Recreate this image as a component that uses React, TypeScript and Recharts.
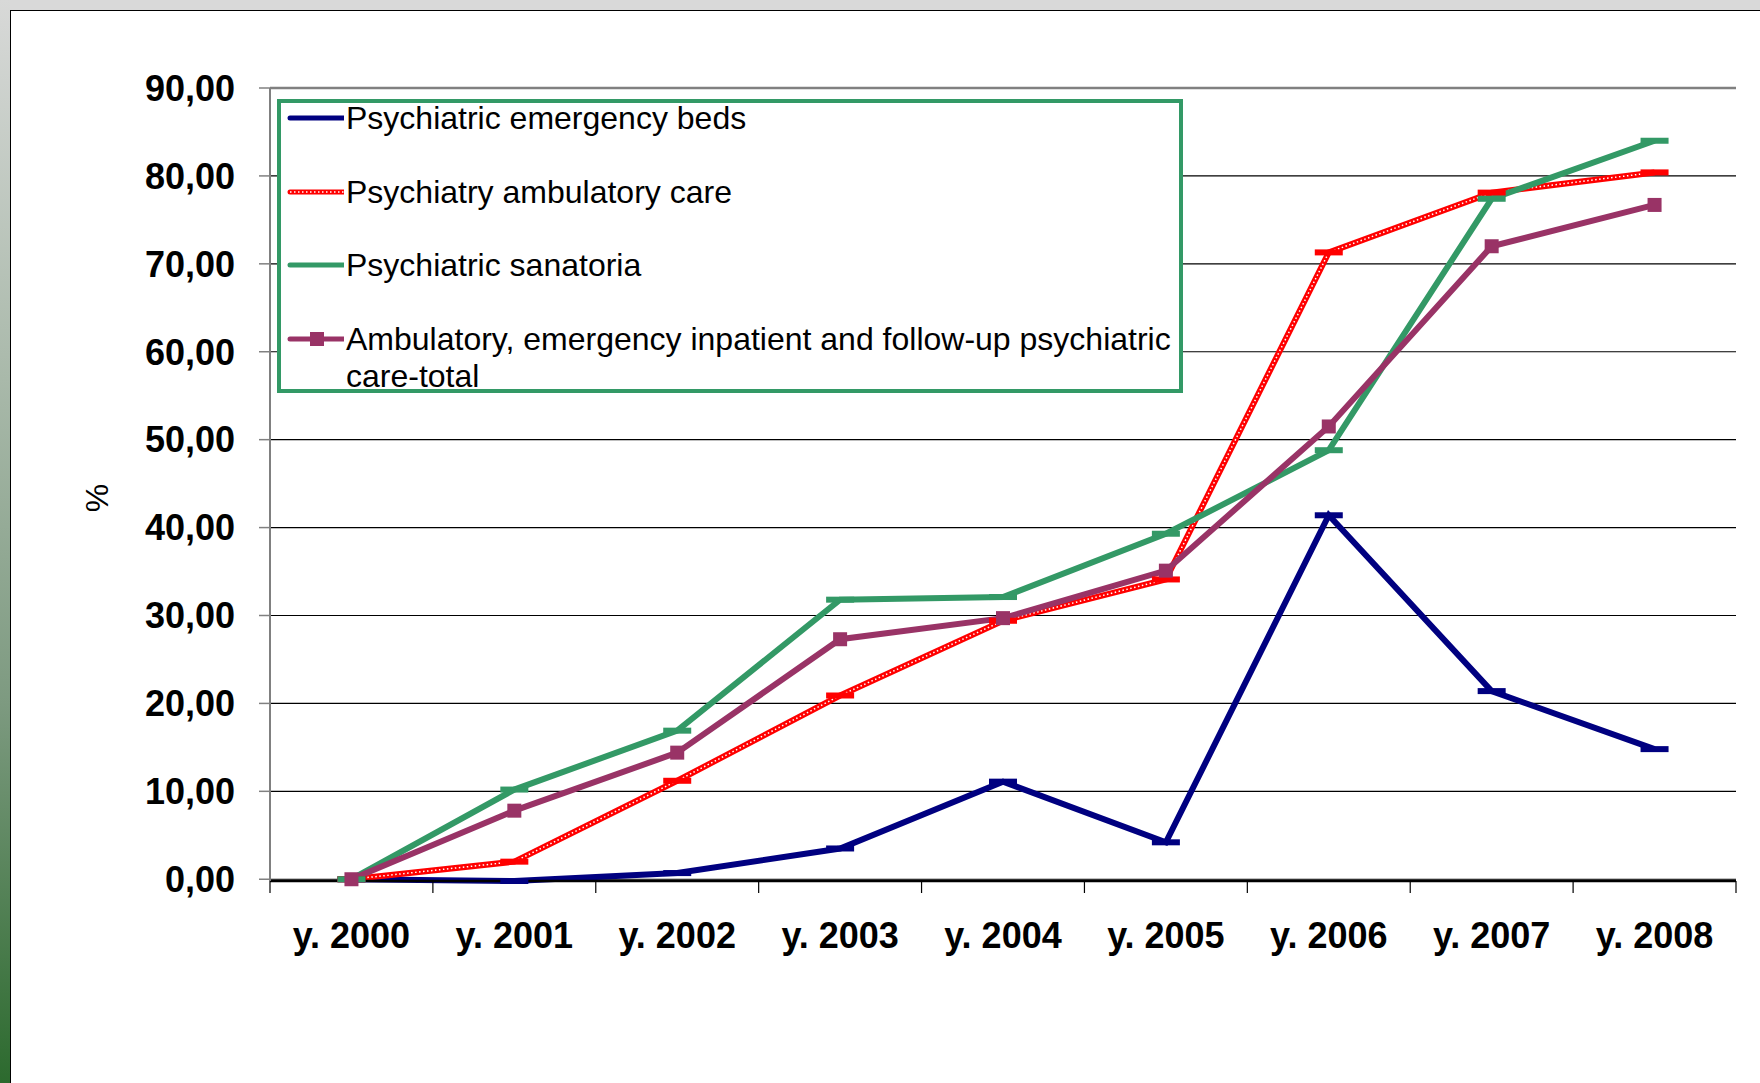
import React from 'react';
import { LineChart, Line, XAxis, YAxis, CartesianGrid, ReferenceLine } from 'recharts';

const years = ['y. 2000', 'y. 2001', 'y. 2002', 'y. 2003', 'y. 2004', 'y. 2005', 'y. 2006', 'y. 2007', 'y. 2008'];
const emergencyBeds = [0, -0.2, 0.7, 3.5, 11.1, 4.2, 41.4, 21.4, 14.8];
const ambulatoryCare = [0, 2.0, 11.2, 20.9, 29.4, 34.1, 71.3, 78.1, 80.4];
const sanatoria = [0, 10.2, 16.9, 31.8, 32.1, 39.3, 48.8, 77.4, 84.0];
const totalCare = [0, 7.8, 14.4, 27.3, 29.7, 35.1, 51.5, 72.0, 76.7];
const yTicks = [0, 10, 20, 30, 40, 50, 60, 70, 80, 90];

const legendLabels = [
  'Psychiatric emergency beds',
  'Psychiatry ambulatory care',
  'Psychiatric sanatoria',
  'Ambulatory, emergency inpatient and follow-up psychiatric\ncare-total',
];
const colors = ['#000080', '#ff0000', '#339966', '#993366'];

const data = years.map((year, i) => ({
  year,
  beds: emergencyBeds[i],
  ambulatory: ambulatoryCare[i],
  sanatoria: sanatoria[i],
  total: totalCare[i],
}));

const FONT = '"Liberation Sans", Arial, sans-serif';
const PLOT_LEFT = 270;
const PLOT_RIGHT = 1736;
const PLOT_TOP = 88;
const PLOT_BOTTOM = 881;
const BAND = (PLOT_RIGHT - PLOT_LEFT) / years.length;

const dashDot = (color: string) => (p: any) => (
  <rect key={`d-${color}-${p.index}`} x={p.cx - 14} y={p.cy - 3} width={28} height={6} fill={color} />
);
const squareDot = (color: string) => (p: any) => (
  <rect key={`s-${color}-${p.index}`} x={p.cx - 7} y={p.cy - 7} width={14} height={14} fill={color} />
);

const XTick = (props: any) => {
  const { x, y, payload, index } = props;
  const last = index === years.length - 1;
  return (
    <g>
      <line x1={x - BAND / 2} x2={x - BAND / 2} y1={y} y2={y + 12} stroke="#000" strokeWidth={1.2} />
      {last && <line x1={x + BAND / 2} x2={x + BAND / 2} y1={y} y2={y + 12} stroke="#000" strokeWidth={1.2} />}
      <text x={x} y={y + 67} textAnchor="middle" fontSize={36} fontWeight="bold" fill="#000" fontFamily={FONT}>
        {payload.value}
      </text>
    </g>
  );
};

const LegendBox = () => (
  <div
    style={{
      position: 'absolute',
      left: 277,
      top: 99,
      width: 906,
      height: 294,
      boxSizing: 'border-box',
      border: '4px solid #339966',
      background: '#fff',
      fontFamily: FONT,
      fontSize: 32,
      color: '#000',
    }}
  >
    {legendLabels.map((label, i) => (
      <div key={label} style={{ position: 'absolute', left: 3, top: -3 + i * 73.5, display: 'flex', alignItems: 'flex-start' }}>
        <svg width={60} height={37} style={{ flex: 'none' }}>
          <line x1={6} x2={60} y1={18} y2={18} stroke={colors[i]} strokeWidth={5} strokeLinecap="round" />
          {i === 1 && <line x1={6} x2={60} y1={18} y2={18} stroke="#fff" strokeWidth={1.5} strokeDasharray="1.5 2.5" />}
          {i === 3 && <rect x={26} y={11} width={14} height={14} fill={colors[i]} />}
        </svg>
        <div style={{ whiteSpace: 'pre-line', lineHeight: '37px', marginLeft: 2 }}>{label}</div>
      </div>
    ))}
  </div>
);

export default function App() {
  return (
    <div style={{ position: 'absolute', left: 0, top: 0, width: 1760, height: 1083, background: '#fff', overflow: 'hidden' }}>
      <div style={{ position: 'absolute', left: 0, top: 0, width: 1760, height: 10, background: '#d9d9d9' }} />
      <div
        style={{
          position: 'absolute',
          left: 0,
          top: 0,
          width: 10,
          height: 1083,
          background: 'linear-gradient(to bottom, #d8d9d8 0%, #a9b9aa 35%, #7d9a80 65%, #2c6a2e 100%)',
        }}
      />
      <div
        style={{
          position: 'absolute',
          left: 10,
          top: 10,
          width: 1760,
          height: 1083,
          borderTop: '1.5px solid #000',
          borderLeft: '1.5px solid #000',
        }}
      />
      <div style={{ position: 'absolute', left: 0, top: 0 }}>
        <LineChart
          width={1760}
          height={1083}
          data={data}
          margin={{ top: PLOT_TOP, right: 1760 - PLOT_RIGHT, left: PLOT_LEFT - 100, bottom: 1083 - PLOT_BOTTOM - 60 }}
          style={{ fontFamily: FONT }}
        >
          <CartesianGrid vertical={false} stroke="#000" strokeWidth={1.2} />
          <XAxis
            dataKey="year"
            height={60}
            interval={0}
            padding={{ left: BAND / 2, right: BAND / 2 }}
            tickLine={false}
            tickSize={0}
            tickMargin={0}
            axisLine={{ stroke: '#000', strokeWidth: 2.5 }}
            tick={<XTick />}
          />
          <YAxis
            width={100}
            domain={[0, 90]}
            ticks={yTicks}
            interval={0}
            tickFormatter={(v: number) => v.toFixed(2).replace('.', ',')}
            tick={{ fill: '#000', fontSize: 36, fontWeight: 'bold', fontFamily: FONT }}
            tickSize={11}
            tickMargin={24}
            tickLine={{ stroke: '#808080', strokeWidth: 1.5 }}
            axisLine={{ stroke: '#808080', strokeWidth: 2 }}
            label={() => (
              <text transform="translate(97, 498) rotate(-90)" textAnchor="middle" dominantBaseline="central" fontSize={32} fontFamily={FONT} fill="#000">
                %
              </text>
            )}
          />
          <YAxis
            yAxisId="frame"
            orientation="right"
            width={0}
            domain={[0, 90]}
            tick={false}
            tickLine={false}
            axisLine={{ stroke: '#808080', strokeWidth: 2.5 }}
          />
          <ReferenceLine y={90} stroke="#808080" strokeWidth={2.5} />
          <Line
            dataKey="beds"
            name={legendLabels[0]}
            stroke={colors[0]}
            strokeWidth={6}
            dot={dashDot(colors[0])}
            activeDot={false}
            isAnimationActive={false}
          />
          <Line
            dataKey="ambulatory"
            name={legendLabels[1]}
            stroke={colors[1]}
            strokeWidth={6}
            dot={dashDot(colors[1])}
            activeDot={false}
            isAnimationActive={false}
          />
          <Line
            dataKey="ambulatory"
            legendType="none"
            stroke="#fff"
            strokeWidth={1.5}
            strokeDasharray="1.5 2.5"
            dot={false}
            activeDot={false}
            isAnimationActive={false}
          />
          <Line
            dataKey="sanatoria"
            name={legendLabels[2]}
            stroke={colors[2]}
            strokeWidth={6}
            dot={dashDot(colors[2])}
            activeDot={false}
            isAnimationActive={false}
          />
          <Line
            dataKey="total"
            name={legendLabels[3]}
            stroke={colors[3]}
            strokeWidth={6}
            dot={squareDot(colors[3])}
            activeDot={false}
            isAnimationActive={false}
          />
        </LineChart>
      </div>
      <LegendBox />
    </div>
  );
}
